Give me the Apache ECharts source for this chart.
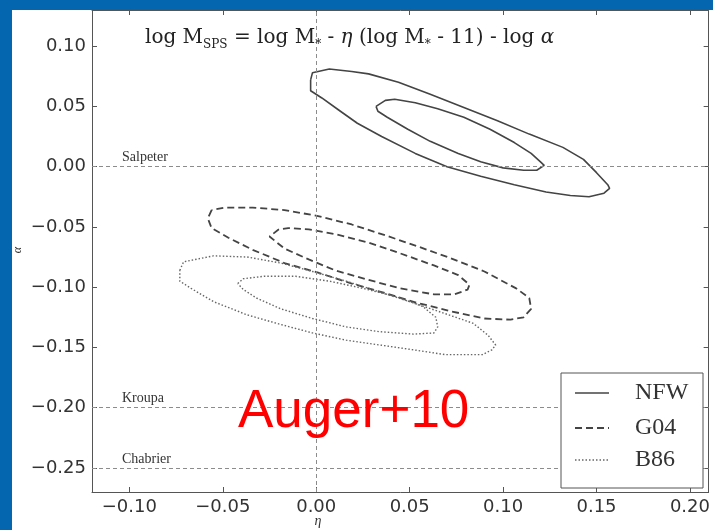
<!DOCTYPE html>
<html>
<head>
<meta charset="utf-8">
<script src="https://cdn.jsdelivr.net/npm/echarts@6/dist/echarts.min.js"></script>
<style>
html,body{margin:0;padding:0;background:#0466ae;width:713px;height:530px;overflow:hidden;}
#chart{position:absolute;left:12px;top:10px;width:701px;height:520px;background:#fff;}
</style>
</head>
<body>
<div id="chart"></div>
<script>
// tick values
var xTicks = [-0.10, -0.05, 0, 0.05, 0.10, 0.15, 0.20];
var yTicks = [0.10, 0.05, 0, -0.05, -0.10, -0.15, -0.20, -0.25];
// IMF reference levels
var imfNames = ['Salpeter', 'Kroupa', 'Chabrier'];
var imfValues = [0, -0.20, -0.25];
var legendNames = ['NFW', 'G04', 'B86'];

// contours [eta, alpha]
var nfwOuter = [[-0.003,0.072],[-0.002,0.078],[0.007,0.081],[0.019,0.079],[0.028,0.077],[0.044,0.070],[0.061,0.060],[0.079,0.049],[0.097,0.038],[0.114,0.027],[0.132,0.016],[0.143,0.006],[0.150,-0.005],[0.156,-0.015],[0.157,-0.018],[0.154,-0.022],[0.146,-0.025],[0.136,-0.024],[0.123,-0.021],[0.106,-0.015],[0.088,-0.008],[0.070,0.000],[0.053,0.011],[0.035,0.025],[0.022,0.036],[0.012,0.047],[0.003,0.057],[-0.003,0.063],[-0.003,0.068],[-0.003,0.072]];
var nfwInner = [[0.032,0.050],[0.037,0.055],[0.042,0.056],[0.053,0.053],[0.065,0.048],[0.079,0.041],[0.093,0.031],[0.106,0.020],[0.115,0.011],[0.120,0.004],[0.122,0.001],[0.118,-0.003],[0.111,-0.003],[0.100,-0.001],[0.088,0.004],[0.076,0.011],[0.061,0.021],[0.049,0.031],[0.038,0.041],[0.033,0.046],[0.032,0.050]];
var g04Outer = [[-0.056,-0.036],[-0.058,-0.043],[-0.056,-0.051],[-0.047,-0.059],[-0.034,-0.069],[-0.017,-0.080],[0.001,-0.088],[0.019,-0.097],[0.037,-0.105],[0.054,-0.113],[0.072,-0.120],[0.090,-0.126],[0.104,-0.127],[0.111,-0.125],[0.115,-0.118],[0.114,-0.109],[0.107,-0.101],[0.090,-0.087],[0.072,-0.076],[0.054,-0.066],[0.037,-0.057],[0.019,-0.048],[0.001,-0.041],[-0.017,-0.036],[-0.034,-0.034],[-0.049,-0.034],[-0.056,-0.036]];
var g04Inner = [[-0.020,-0.052],[-0.025,-0.058],[-0.017,-0.068],[-0.004,-0.077],[0.010,-0.086],[0.028,-0.094],[0.045,-0.101],[0.063,-0.106],[0.074,-0.106],[0.081,-0.102],[0.082,-0.098],[0.076,-0.090],[0.063,-0.082],[0.045,-0.072],[0.028,-0.063],[0.010,-0.056],[-0.004,-0.052],[-0.015,-0.051],[-0.020,-0.052]];
var b86Outer = [[-0.073,-0.086],[-0.071,-0.079],[-0.055,-0.074],[-0.037,-0.075],[-0.019,-0.080],[-0.002,-0.087],[0.016,-0.095],[0.034,-0.104],[0.052,-0.113],[0.069,-0.122],[0.084,-0.130],[0.092,-0.140],[0.096,-0.148],[0.094,-0.152],[0.089,-0.156],[0.069,-0.156],[0.052,-0.152],[0.034,-0.148],[0.016,-0.144],[-0.002,-0.138],[-0.019,-0.131],[-0.037,-0.123],[-0.055,-0.112],[-0.067,-0.101],[-0.073,-0.095],[-0.073,-0.086]];
var b86Inner = [[-0.042,-0.097],[-0.039,-0.093],[-0.028,-0.091],[-0.011,-0.091],[0.007,-0.095],[0.025,-0.101],[0.043,-0.108],[0.057,-0.116],[0.064,-0.125],[0.065,-0.133],[0.063,-0.138],[0.052,-0.139],[0.034,-0.137],[0.016,-0.133],[-0.002,-0.126],[-0.019,-0.118],[-0.032,-0.109],[-0.039,-0.102],[-0.042,-0.097]];

var lineColor = '#444';
var dashes = { NFW: 'solid', G04: [7, 4], B86: [1.5, 2] };
var widths = { NFW: 1.6, G04: 1.8, B86: 1.4 };

function fmt(v){ return (v < -1e-9 ? '\u2212' : '') + Math.abs(v).toFixed(2); }

function contour(name, data){
  return {
    name: name, type: 'line', data: data, symbol: 'none', silent: true,
    lineStyle: { color: name === 'B86' ? '#666' : lineColor, width: widths[name], type: dashes[name] }
  };
}

var markData = [];
for (var i = 0; i < imfNames.length; i++) {
  markData.push({ yAxis: imfValues[i], label: { show: true, formatter: imfNames[i] } });
}
markData.push({ xAxis: 0, label: { show: false } });

var series = [
  contour('NFW', nfwOuter), contour('NFW', nfwInner),
  contour('G04', g04Outer), contour('G04', g04Inner),
  contour('B86', b86Outer), contour('B86', b86Inner)
];
series[0].markLine = {
  silent: true, symbol: 'none', animation: false,
  lineStyle: { color: '#8c8c8c', width: 1, type: [4, 3] },
  label: { position: 'insideStartTop', distance: [30, 2], color: '#333',
           fontFamily: 'Liberation Serif', fontSize: 14 },
  data: markData
};

function axisX(pos, labels){
  return {
    type: 'value', position: pos, min: -0.12, max: 0.21,
    axisLine: { show: true, onZero: false, lineStyle: { color: '#555', width: 1 } },
    axisTick: { show: true, inside: true, length: 5, customValues: xTicks, lineStyle: { color: '#555' } },
    axisLabel: { show: labels, customValues: xTicks, formatter: fmt, color: '#333',
                 fontFamily: 'DejaVu Sans', fontSize: 18, margin: 6 },
    splitLine: { show: false }
  };
}
function axisY(pos, labels){
  return {
    type: 'value', position: pos, min: -0.27, max: 0.13,
    axisLine: { show: true, onZero: false, lineStyle: { color: '#555', width: 1 } },
    axisTick: { show: true, inside: true, length: 5, customValues: yTicks, lineStyle: { color: '#555' } },
    axisLabel: { show: labels, customValues: yTicks, formatter: fmt, color: '#333',
                 fontFamily: 'DejaVu Sans', fontSize: 18, margin: 6 },
    splitLine: { show: false }
  };
}

var legendY = [383, 418, 450];
var legendEls = [{
  type: 'rect', shape: { x: 549, y: 363, width: 142, height: 115 },
  style: { fill: '#fff', stroke: '#555', lineWidth: 1 }, z: 100
}];
for (var k = 0; k < legendNames.length; k++) {
  var d = dashes[legendNames[k]];
  legendEls.push({
    type: 'line', shape: { x1: 563, y1: legendY[k], x2: 597, y2: legendY[k] },
    style: { stroke: legendNames[k] === 'B86' ? '#666' : lineColor, lineWidth: widths[legendNames[k]],
             lineDash: d === 'solid' ? null : d }, z: 101
  });
  legendEls.push({
    type: 'text', x: 623, y: legendY[k], z: 101,
    style: { text: legendNames[k], fill: '#333', font: '24px "Liberation Serif"', verticalAlign: 'middle' }
  });
}

var chart = echarts.init(document.getElementById('chart'), null, { renderer: 'canvas' });
chart.setOption({
  animation: false,
  backgroundColor: '#fff',
  grid: { left: 80, top: 0, right: 0, bottom: 38, containLabel: false },
  xAxis: [axisX('bottom', true), axisX('top', false)],
  yAxis: [axisY('left', true), axisY('right', false)],
  series: series,
  graphic: [{
    type: 'text', x: 133, y: 28, z: 100,
    style: {
      text: 'log M{s|SPS} = log M{s|*} - {i|\u03b7} (log M{s|*} - 11) - log {i|\u03b1}',
      fill: '#222', fontFamily: 'DejaVu Serif', fontSize: 20, lineHeight: 26,
      verticalAlign: 'middle',
      rich: {
        s: { fontSize: 12, fontFamily: 'DejaVu Serif', fill: '#222', verticalAlign: 'bottom', lineHeight: 26 },
        i: { fontStyle: 'italic', fontSize: 20, fontFamily: 'DejaVu Serif', fill: '#222' }
      }
    }
  }, {
    type: 'text', x: 226, y: 402, z: 100,
    style: { text: 'Auger+10', fill: '#ff0000', font: '53px "Liberation Sans"', verticalAlign: 'middle' }
  }, {
    type: 'text', x: 6, y: 240, rotation: Math.PI / 2, z: 100,
    style: { text: '\u03b1', fill: '#333', font: 'italic 12px "Liberation Serif"', align: 'center', verticalAlign: 'middle' }
  }, {
    type: 'text', x: 306, y: 511, z: 100,
    style: { text: '\u03b7', fill: '#333', font: 'italic 14px "Liberation Serif"', align: 'center', verticalAlign: 'middle' }
  }].concat(legendEls)
});
</script>
</body>
</html>
